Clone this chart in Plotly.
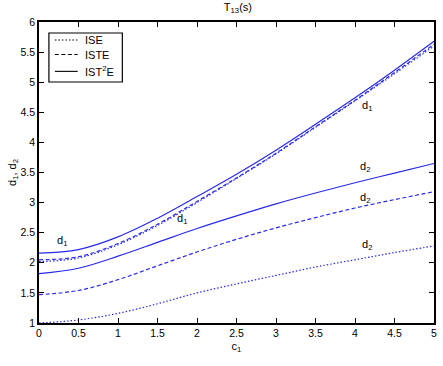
import plotly.graph_objects as go

c1 = [0, 0.5, 1, 1.5, 2, 2.5, 3, 3.5, 4, 4.5, 5]

d1_ist2e = [2.16, 2.22, 2.43, 2.74, 3.10, 3.47, 3.87, 4.30, 4.74, 5.20, 5.68]
d1_iste = [2.05, 2.10, 2.32, 2.64, 3.02, 3.41, 3.82, 4.26, 4.70, 5.16, 5.63]
d1_ise = [2.02, 2.08, 2.30, 2.62, 3.00, 3.40, 3.81, 4.25, 4.69, 5.14, 5.60]

d2_ist2e = [1.82, 1.91, 2.11, 2.34, 2.57, 2.78, 2.98, 3.16, 3.33, 3.49, 3.65]
d2_iste = [1.47, 1.54, 1.72, 1.95, 2.18, 2.39, 2.58, 2.75, 2.91, 3.05, 3.18]
d2_ise = [1.00, 1.05, 1.16, 1.32, 1.50, 1.65, 1.79, 1.93, 2.05, 2.17, 2.28]

legend_names = ["ISE", "ISTE", "IST<sup>2</sup>E"]
tick_vals_x = [0, 0.5, 1, 1.5, 2, 2.5, 3, 3.5, 4, 4.5, 5]
tick_text_x = ["0", "0.5", "1", "1.5", "2", "2.5", "3", "3.5", "4", "4.5", "5"]
tick_vals_y = [1, 1.5, 2, 2.5, 3, 3.5, 4, 4.5, 5, 5.5, 6]
tick_text_y = ["1", "1.5", "2", "2.5", "3", "3.5", "4", "4.5", "5", "5.5", "6"]

label_x = [0.29, 1.81, 4.15, 4.13, 4.13, 4.15]
label_y = [2.37, 2.72, 4.60, 3.59, 3.07, 2.29]
label_text = ["d<sub>1</sub>", "d<sub>1</sub>", "d<sub>1</sub>", "d<sub>2</sub>", "d<sub>2</sub>", "d<sub>2</sub>"]

BLUE = "#2a2ae6"
FONT = "Liberation Sans, Arial, sans-serif"
DOT = "1.5px,2px"
DASH = "4px,2.5px"
STYLES = [DOT, DASH, "solid"]

fig = go.Figure()
series = [
    (d1_ise, 0), (d1_iste, 1), (d1_ist2e, 2),
    (d2_ise, 0), (d2_iste, 1), (d2_ist2e, 2),
]
for ys, k in series:
    fig.add_trace(go.Scatter(x=c1, y=ys, mode="lines", name=legend_names[k],
                             line=dict(color=BLUE, width=1.2, dash=STYLES[k], shape="spline"),
                             showlegend=False, hoverinfo="skip"))

for lx, ly, lt in zip(label_x, label_y, label_text):
    fig.add_annotation(x=lx, y=ly, text=lt, showarrow=False, font=dict(family=FONT, size=11, color="black"))

# Compact legend box (matching the MATLAB-style legend)
fig.add_shape(type="rect", xref="paper", yref="paper", x0=0.0251, x1=0.211, y0=0.8007, y1=0.9635,
              line=dict(color="black", width=1.2), fillcolor="white", layer="above")
leg_y = [0.940, 0.892, 0.836]
for name, st, yy in zip(legend_names, STYLES, leg_y):
    fig.add_shape(type="line", xref="paper", yref="paper", x0=0.0402, x1=0.098, y0=yy, y1=yy,
                  line=dict(color="black", width=1.1, dash=st), layer="above")
    fig.add_annotation(xref="paper", yref="paper", x=0.1106, y=yy, xanchor="left", yanchor="middle",
                       text=name, showarrow=False, font=dict(family=FONT, size=11, color="black"))

axis_common = dict(showline=True, linecolor="black", linewidth=1.5, mirror="ticks", ticks="inside", ticklen=5,
                   tickcolor="black", showgrid=False, zeroline=False,
                   tickfont=dict(family=FONT, size=10.5, color="black"))

fig.update_layout(
    width=443, height=366, autosize=False,
    margin=dict(l=39, r=6, t=22, b=43),
    paper_bgcolor="white", plot_bgcolor="white",
    showlegend=False,
    title=dict(text="T<sub>13</sub>(s)", x=0.537, xanchor="center", y=0.992, yanchor="top",
               font=dict(family=FONT, size=11, color="black")),
    xaxis=dict(range=[0, 5], tickvals=tick_vals_x, ticktext=tick_text_x,
               title=dict(text="c<sub>1</sub>", font=dict(family=FONT, size=11, color="black"), standoff=4),
               **axis_common),
    yaxis=dict(range=[1, 6], tickvals=tick_vals_y, ticktext=tick_text_y,
               title=dict(text="d<sub>1</sub>, d<sub>2</sub>", font=dict(family=FONT, size=11, color="black"), standoff=2),
               **axis_common),
)

fig.write_html("out.html")
